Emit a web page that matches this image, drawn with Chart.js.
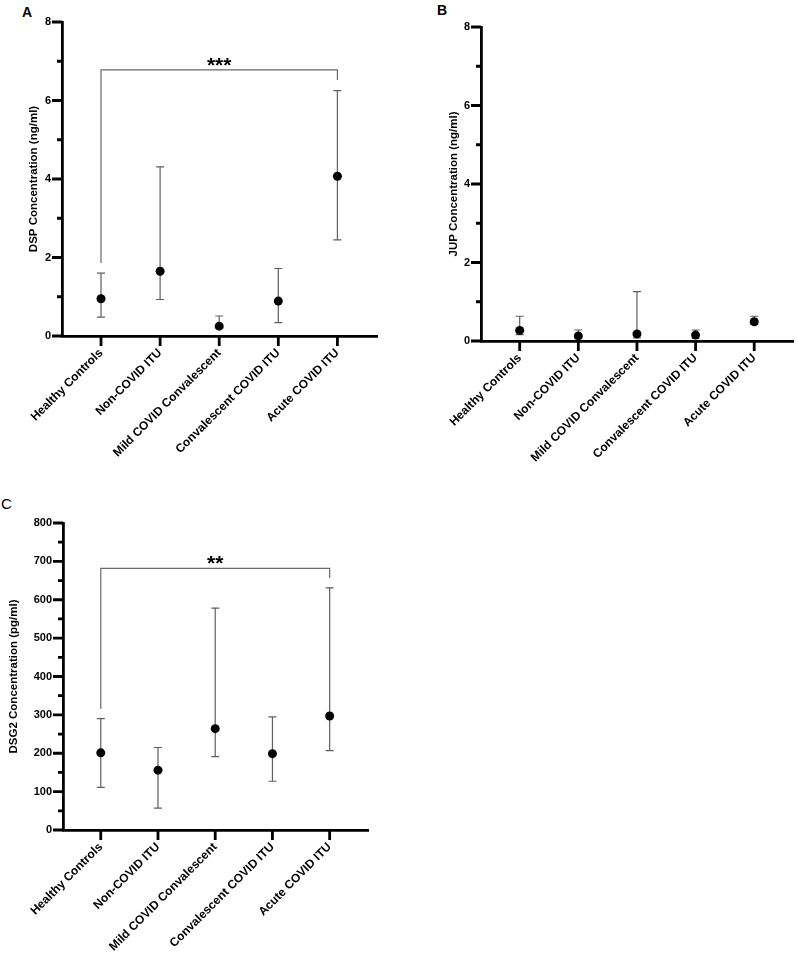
<!DOCTYPE html>
<html>
<head>
<meta charset="utf-8">
<script src="https://cdn.jsdelivr.net/npm/chart.js@4.4.1/dist/chart.umd.min.js"></script>
<style>
  body { margin: 0; background: #fff; width: 798px; height: 953px; position: relative; overflow: hidden;
         font-family: "Liberation Sans", Arial, Helvetica, sans-serif; }
  .panel { position: absolute; }
  .tag { position: absolute; font-size: 14px; line-height: 1; font-weight: bold; color: #000; }
</style>
</head>
<body>
<div class="tag" style="left:22px;top:5px">A</div>
<div class="tag" style="left:437px;top:3px">B</div>
<div class="tag" style="left:1px;top:496px;font-weight:normal;font-size:15px">C</div>

<div class="panel" style="left:0;top:0;width:400px;height:465px"><canvas id="chartA"></canvas></div>
<div class="panel" style="left:400px;top:0;width:398px;height:465px"><canvas id="chartB"></canvas></div>
<div class="panel" style="left:0;top:470px;width:400px;height:483px"><canvas id="chartC"></canvas></div>

<script>
// groupes (axe x)
const groups = ['Healthy Controls', 'Non-COVID ITU', 'Mild COVID Convalescent', 'Convalescent COVID ITU', 'Acute COVID ITU'];

// DSP (ng/ml) : médiane + intervalle
const dspMedian = [0.95, 1.65, 0.25, 0.89, 4.07];
const dspLower  = [0.48, 0.93, 0.20, 0.34, 2.45];
const dspUpper  = [1.60, 4.31, 0.51, 1.72, 6.25];

// JUP (ng/ml)
const jupMedian = [0.27, 0.13, 0.18, 0.15, 0.49];
const jupLower  = [0.16, 0.06, 0.08, 0.07, 0.42];
const jupUpper  = [0.63, 0.28, 1.26, 0.28, 0.63];

// DSG2 (pg/ml)
const dsg2Median = [201, 156, 264, 199, 297];
const dsg2Lower  = [111, 57, 191, 127, 207];
const dsg2Upper  = [290, 215, 578, 295, 631];

// crochets de significativité : [barre, bas gauche, bas droite]
const dspBracket  = [6.78, 1.86, 6.52];
const dsg2Bracket = [682, 315, 657];

const FONT = '"Liberation Sans", Arial, Helvetica, sans-serif';

// barres d'erreur, dessinées sous les points
const errorBars = {
  id: 'errorBars',
  beforeDatasetsDraw(chart) {
    const { ctx, scales: { x, y } } = chart;
    chart.data.datasets.forEach(ds => {
      ctx.save();
      ctx.strokeStyle = '#5f5f5f';
      ctx.lineWidth = 1.2;
      ds.data.forEach((pt, i) => {
        const px = x.getPixelForValue(pt.x);
        const top = y.getPixelForValue(ds.upper[i]);
        const bot = y.getPixelForValue(ds.lower[i]);
        ctx.beginPath();
        ctx.moveTo(px, top); ctx.lineTo(px, bot);
        ctx.moveTo(px - 4, top); ctx.lineTo(px + 4, top);
        ctx.moveTo(px - 4, bot); ctx.lineTo(px + 4, bot);
        ctx.stroke();
      });
      ctx.restore();
    });
  }
};

// graduations (majeures / mineures) + crochet
const axisDecor = {
  id: 'axisDecor',
  afterDraw(chart, args, opts) {
    const { ctx, chartArea, scales: { x, y } } = chart;
    ctx.save();
    ctx.strokeStyle = '#000';
    ctx.lineWidth = 2.8;
    ctx.beginPath();
    y.ticks.forEach(t => {
      const py = y.getPixelForValue(t.value);
      const len = t.value % opts.major === 0 ? 10 : 5;
      ctx.moveTo(chartArea.left, py);
      ctx.lineTo(chartArea.left - len, py);
    });
    x.ticks.forEach(t => {
      const px = x.getPixelForValue(t.value);
      ctx.moveTo(px, chartArea.bottom);
      ctx.lineTo(px, chartArea.bottom + 10);
    });
    ctx.stroke();

    if (opts.bracket) {
      const [bar, leftEnd, rightEnd] = opts.bracket;
      const x0 = x.getPixelForValue(0);
      const x1 = x.getPixelForValue(groups.length - 1);
      const yb = y.getPixelForValue(bar);
      ctx.strokeStyle = '#6a6a6a';
      ctx.lineWidth = 1.2;
      ctx.beginPath();
      ctx.moveTo(x0, y.getPixelForValue(leftEnd));
      ctx.lineTo(x0, yb);
      ctx.lineTo(x1, yb);
      ctx.lineTo(x1, y.getPixelForValue(rightEnd));
      ctx.stroke();
      ctx.fillStyle = '#000';
      ctx.font = 'bold 21px ' + FONT;
      ctx.textAlign = 'center';
      ctx.textBaseline = 'alphabetic';
      ctx.fillText(opts.stars, (x0 + x1) / 2, yb + 2);
    }
    ctx.restore();
  }
};

function makePanel(id, median, lower, upper, cfg) {
  const ctx = document.getElementById(id).getContext('2d');
  return new Chart(ctx, {
    type: 'scatter',
    data: {
      datasets: [{
        data: median.map((v, i) => ({ x: i, y: v })),
        lower: lower,
        upper: upper,
        pointRadius: 4.5,
        pointHoverRadius: 4.5,
        backgroundColor: '#000',
        borderWidth: 0
      }]
    },
    options: {
      responsive: true,
      maintainAspectRatio: false,
      animation: false,
      layout: { padding: cfg.padding },
      plugins: {
        legend: { display: false },
        tooltip: { enabled: false },
        axisDecor: { major: cfg.major, bracket: cfg.bracket, stars: cfg.stars }
      },
      scales: {
        x: {
          type: 'linear',
          min: -0.66,
          max: 4.67,
          afterBuildTicks: s => { s.ticks = groups.map((g, i) => ({ value: i })); },
          grid: { display: false, drawTicks: false },
          border: { color: '#000', width: 2.8 },
          ticks: {
            autoSkip: false,
            maxRotation: 45,
            minRotation: 45,
            padding: 10,
            color: '#000',
            font: { family: FONT, size: 12, weight: 'bold' },
            callback: v => groups[v]
          },
          afterFit: s => { s.height = cfg.xHeight; }
        },
        y: {
          min: 0,
          max: cfg.max,
          grid: { display: false, drawTicks: false },
          border: { color: '#000', width: 2.8 },
          ticks: {
            stepSize: cfg.minor,
            autoSkip: false,
            padding: 11,
            color: '#000',
            font: { family: FONT, size: 11, weight: 'bold' },
            callback: v => (v % cfg.major === 0 ? v : '')
          },
          title: {
            display: true,
            text: cfg.title,
            color: '#000',
            font: { family: FONT, size: 11.5, weight: 'bold' },
            padding: { top: cfg.titlePad, bottom: 0 }
          },
          afterFit: s => { s.width = cfg.yWidth; }
        }
      }
    },
    plugins: [errorBars, axisDecor]
  });
}

makePanel('chartA', dspMedian, dspLower, dspUpper, {
  max: 8, major: 2, minor: 1, title: 'DSP Concentration (ng/ml)',
  padding: { top: 22, right: 23, left: 0, bottom: 0 }, yWidth: 62, xHeight: 129, titlePad: 27,
  bracket: dspBracket, stars: '***'
});

makePanel('chartB', jupMedian, jupLower, jupUpper, {
  max: 8, major: 2, minor: 1, title: 'JUP Concentration (ng/ml)',
  padding: { top: 27, right: 3, left: 0, bottom: 0 }, yWidth: 81, xHeight: 124, titlePad: 47
});

makePanel('chartC', dsg2Median, dsg2Lower, dsg2Upper, {
  max: 800, major: 100, minor: 50, title: 'DSG2 Concentration (pg/ml)',
  padding: { top: 53, right: 32, left: 0, bottom: 0 }, yWidth: 63, xHeight: 123, titlePad: 7,
  bracket: dsg2Bracket, stars: '**'
});
</script>
</body>
</html>
